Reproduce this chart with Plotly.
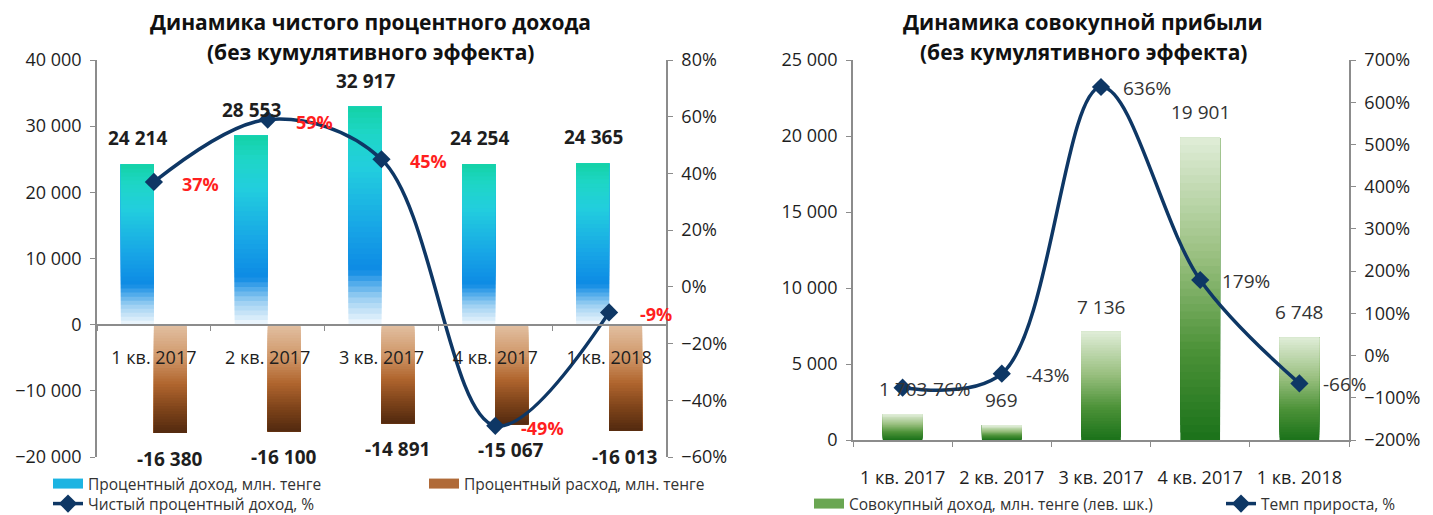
import plotly.graph_objects as go

# ---------------- data ----------------
quarters = ["1 кв. 2017", "2 кв. 2017", "3 кв. 2017", "4 кв. 2017", "1 кв. 2018"]
interest_income = [24214, 28553, 32917, 24254, 24365]
interest_expense = [-16380, -16100, -14891, -15067, -16013]
net_income_growth = [37, 59, 45, -49, -9]
total_income = [1703, 969, 7136, 19901, 6748]
total_growth = [-76, -43, 636, 179, -66]

W, H = 1433, 515
FONT = "Open Sans, Noto Sans, sans-serif"
NAVY = "#0e3765"
AXIS = "#8c8c8c"
TXT = "#1e1e1e"


def px_x(p):
    return p / W


def px_y(p):
    return 1 - p / H


def hex2rgb(h):
    h = h.lstrip("#")
    return tuple(int(h[i:i + 2], 16) for i in (0, 2, 4))


def interp(stops, t):
    stops = [(s, hex2rgb(c)) for s, c in stops]
    for (t0, c0), (t1, c1) in zip(stops, stops[1:]):
        if t <= t1:
            f = (t - t0) / (t1 - t0) if t1 > t0 else 0
            return "rgb(%d,%d,%d)" % tuple(round(a + (b - a) * f) for a, b in zip(c0, c1))
    return "rgb(%d,%d,%d)" % stops[-1][1]


# gradient stops: t=0 at bar base (zero line), t=1 at bar end
income_stops = [(0.0, "#f2f8fd"), (0.12, "#9dd0f2"), (0.25, "#0d8ae4"), (0.45, "#18a6e6"),
                (0.72, "#22cede"), (0.88, "#1ed6c6"), (1.0, "#14d2a6")]
expense_stops = [(0.0, "#e2c0a2"), (0.3, "#d0986a"), (0.55, "#b0652e"), (0.8, "#7a4119"),
                 (1.0, "#52290f")]
green_stops = [(0.0, "#1b721a"), (0.3, "#4c9238"), (0.6, "#98bf7e"), (1.0, "#e0edd8")]

N = 40
fig = go.Figure()


def gradient_bars(x, values, stops, xaxis, yaxis, width, offset):
    for k in range(N):
        t = k / N
        base = [v * t for v in values]
        y = [v - b for v, b in zip(values, base)]
        fig.add_trace(go.Bar(
            x=x, y=y, base=base, width=width, offset=offset,
            marker=dict(color=interp(stops, t + 0.5 / N), line=dict(width=0)),
            xaxis=xaxis, yaxis=yaxis, showlegend=False, hoverinfo="skip"))


# ---------------- left chart ----------------
gradient_bars(quarters, interest_income, income_stops, "x", "y", 0.29, -0.29)
gradient_bars(quarters, interest_expense, expense_stops, "x", "y", 0.29, 0.0)

fig.add_trace(go.Scatter(x=[None], y=[None], mode="lines", name="Процентный доход, млн. тенге",
                         line=dict(color="#1cb4e2", width=10), xaxis="x", yaxis="y", legend="legend"))
fig.add_trace(go.Scatter(x=[None], y=[None], mode="lines", name="Процентный расход, млн. тенге",
                         line=dict(color="#b06a38", width=10), xaxis="x", yaxis="y", legend="legend4"))

fig.add_trace(go.Scatter(
    x=quarters, y=net_income_growth, mode="lines+markers", name="Чистый процентный доход, %",
    line=dict(color=NAVY, width=3.5, shape="spline", smoothing=1.0),
    marker=dict(symbol="diamond", size=14, color=NAVY),
    xaxis="x", yaxis="y2", legend="legend3", hoverinfo="skip"))

# ---------------- right chart ----------------
gradient_bars(quarters, total_income, green_stops, "x2", "y3", 0.4, -0.2)
fig.add_trace(go.Scatter(x=[None], y=[None], mode="lines", name="Совокупный доход, млн. тенге (лев. шк.)",
                         line=dict(color="#6aa652", width=10), xaxis="x2", yaxis="y3", legend="legend2"))
fig.add_trace(go.Scatter(
    x=quarters, y=total_growth, mode="lines+markers", name="Темп прироста, %",
    line=dict(color=NAVY, width=3.5, shape="spline", smoothing=1.0),
    marker=dict(symbol="diamond", size=14, color=NAVY),
    xaxis="x2", yaxis="y4", legend="legend5", hoverinfo="skip"))

# ---------------- annotations ----------------
ann = []


def fmt(v):
    return "{:,}".format(v).replace(",", " ")


for q, v in zip(quarters, interest_income):
    ann.append(dict(x=q, y=v, xref="x", yref="y", text="<b>%s</b>" % fmt(v), showarrow=False,
                    xshift=-16, yshift=11, yanchor="bottom", font=dict(size=19, color=TXT)))
for q, v in zip(quarters, interest_expense):
    ann.append(dict(x=q, y=v, xref="x", yref="y", text="<b>%s</b>" % fmt(v),
                    showarrow=False, xshift=16, yshift=-11, yanchor="top", font=dict(size=19, color=TXT)))
for q, v in zip(quarters, net_income_growth):
    ann.append(dict(x=q, y=v, xref="x", yref="y2", text="<b>%d%%</b>" % v, showarrow=False,
                    xshift=47, yshift=-2, font=dict(size=18, color="#ff1f1f")))
for q, v in zip(quarters, total_income):
    ann.append(dict(x=q, y=v, xref="x2", yref="y3", text=fmt(v), showarrow=False,
                    yshift=10, yanchor="bottom", font=dict(size=19, color="#333333")))
for q, v in zip(quarters, total_growth):
    ann.append(dict(x=q, y=v, xref="x2", yref="y4", text="%d%%" % v, showarrow=False,
                    xshift=46, yshift=-1, font=dict(size=19, color="#333333")))

# titles
for cx, l1 in ((370, "Динамика чистого процентного дохода"), (1083, "Динамика совокупной прибыли")):
    ann.append(dict(x=px_x(cx), y=px_y(22), xref="paper", yref="paper", showarrow=False,
                    xanchor="center", yanchor="middle",
                    text="<b>%s</b>" % l1, font=dict(size=21, color="#111111")))
    ann.append(dict(x=px_x(cx), y=px_y(52), xref="paper", yref="paper", showarrow=False,
                    xanchor="center", yanchor="middle",
                    text="<b>(без кумулятивного эффекта)</b>", font=dict(size=21, color="#111111")))

axis_common = dict(showline=True, linecolor=AXIS, linewidth=1.5, ticks="outside", ticklen=5,
                   tickcolor=AXIS, showgrid=False, zeroline=False, automargin=False,
                   tickfont=dict(size=18, color=TXT, family=FONT))

legend_common = dict(orientation="h", xanchor="left", yanchor="middle",
                     itemwidth=30, bgcolor="rgba(0,0,0,0)", font=dict(size=15.5, color="#333333"),
                     tracegroupgap=0, itemclick=False, itemdoubleclick=False)

fig.update_layout(
    width=W, height=H, autosize=False,
    margin=dict(l=0, r=0, t=0, b=0, autoexpand=False),
    paper_bgcolor="white", plot_bgcolor="white",
    font=dict(family=FONT, color=TXT),
    separators=", ",
    barmode="overlay",
    annotations=ann,
    xaxis=dict(domain=[px_x(97), px_x(666)], anchor="free", position=px_y(325), type="category",
               range=[-0.5, 4.5], tickson="boundaries", ticklabelstandoff=17, **axis_common),
    yaxis=dict(domain=[px_y(457), px_y(60)], anchor="x", range=[-20000, 40000], dtick=10000,
               tickformat=",d", ticklabelstandoff=5, **axis_common),
    yaxis2=dict(overlaying="y", side="right", anchor="x", range=[-60, 80], dtick=20,
                ticksuffix="%", ticklabelstandoff=5, **axis_common),
    xaxis2=dict(domain=[px_x(853), px_x(1349)], anchor="y3", type="category", range=[-0.5, 4.5],
                tickson="boundaries", ticklabelstandoff=21, **axis_common),
    yaxis3=dict(domain=[px_y(440), px_y(60)], anchor="x2", range=[0, 25000], dtick=5000,
                tickformat=",d", ticklabelstandoff=5, **axis_common),
    yaxis4=dict(overlaying="y3", side="right", anchor="x2", range=[-200, 700], dtick=100,
                ticksuffix="%", ticklabelstandoff=5, **axis_common),
    legend=dict(x=px_x(48), y=px_y(484), **legend_common),
    legend4=dict(x=px_x(424), y=px_y(484), **legend_common),
    legend3=dict(x=px_x(48), y=px_y(504), **legend_common),
    legend2=dict(x=px_x(809), y=px_y(504), **legend_common),
    legend5=dict(x=px_x(1221), y=px_y(504), **legend_common),
)

fig.write_html("out.html")
